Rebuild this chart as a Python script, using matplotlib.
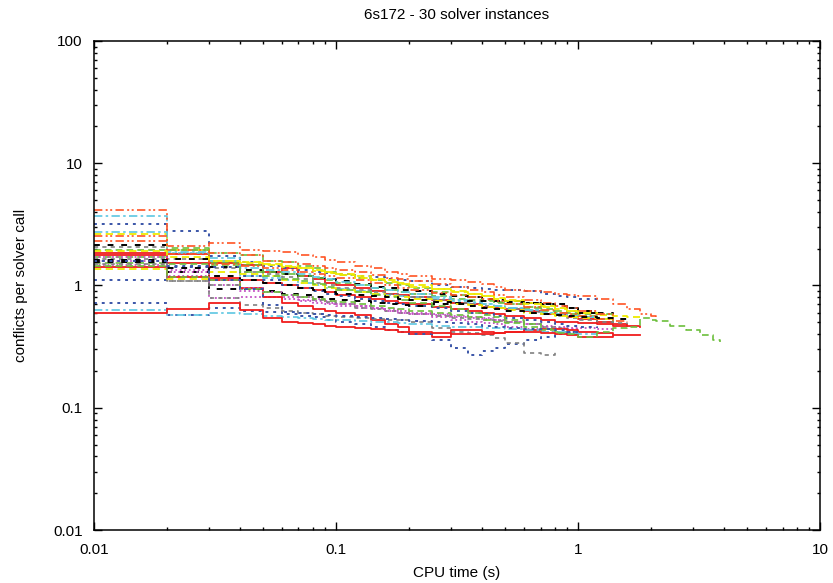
import matplotlib
matplotlib.use("Agg")
import matplotlib.pyplot as plt

plt.rcParams['font.family'] = ['Liberation Sans', 'DejaVu Sans']

# shared CPU-time grid (s)
T = [0.01, 0.02, 0.03, 0.04, 0.05, 0.06, 0.07, 0.08, 0.09, 0.10,
     0.12, 0.14, 0.16, 0.18, 0.20,
     0.25, 0.30, 0.35, 0.40, 0.45, 0.50,
     0.60, 0.70, 0.80, 0.90, 1.00,
     1.20, 1.40, 1.60, 1.80, 2.00,
     2.10, 2.40, 2.80, 3.20, 3.60, 3.85]

# conflicts per solver call, one list per solver instance
s00 = [1.85, 1.80, 1.54, 1.46, 1.30, 1.39, 1.20, 1.12, 1.05, 1.00, 0.95, 0.90, 0.86, 0.84, 0.80,
       0.76, 0.72, 0.70, 0.67, 0.66, 0.64, 0.62, 0.58, 0.57, 0.55, 0.53, 0.50, 0.48, 0.47, 0.46]
s01 = [1.71, 2.04, 1.84, 1.79, 1.60, 1.55, 1.45, 1.38, 1.30, 1.22, 1.15, 1.10, 1.04, 1.00, 0.95,
       0.88, 0.84, 0.80, 0.76, 0.73, 0.70, 0.66, 0.62, 0.60, 0.58, 0.56, 0.53, 0.50]
s02 = [3.19, 2.81, 1.73, 1.55, 1.45, 1.40, 1.35, 1.30, 1.27, 1.24, 1.20, 1.17, 1.14, 1.11, 1.08,
       1.01, 0.98, 0.95, 0.93, 0.92, 0.92, 0.90, 0.86, 0.82, 0.80, 0.78, 0.75]
s03 = [1.58, 1.34, 0.79, 0.81, 0.80, 0.78, 0.75, 0.72, 0.70, 0.68, 0.66, 0.64, 0.62, 0.60, 0.59,
       0.57, 0.55, 0.54, 0.53, 0.52, 0.50, 0.48, 0.47, 0.46, 0.45, 0.45, 0.44, 0.44]
s04 = [3.70, 1.89, 1.67, 1.20, 1.15, 1.10, 1.05, 1.00, 0.96, 0.93, 0.90, 0.86, 0.84, 0.82, 0.80,
       0.77, 0.74, 0.72, 0.70, 0.68, 0.66, 0.63, 0.60, 0.58, 0.56, 0.55, 0.53, 0.52]
s05 = [4.15, 2.10, 2.23, 1.94, 1.93, 1.88, 1.78, 1.72, 1.62, 1.55, 1.45, 1.38, 1.30, 1.24, 1.20,
       1.14, 1.10, 1.07, 1.02, 0.97, 0.92, 0.90, 0.88, 0.86, 0.84, 0.82, 0.77, 0.70, 0.64, 0.58,
       0.56, 0.55]
s06 = [2.07, 1.65, 1.40, 1.30, 1.25, 1.18, 1.12, 1.05, 1.00, 0.96, 0.92, 0.88, 0.85, 0.82, 0.80,
       0.76, 0.72, 0.70, 0.68, 0.66, 0.64, 0.61, 0.58, 0.56, 0.54, 0.52, 0.50, 0.49, 0.48]
s07 = [2.14, 1.65, 1.42, 1.35, 1.30, 1.24, 1.20, 1.16, 1.12, 1.08, 1.02, 0.98, 0.95, 0.92, 0.90,
       0.86, 0.82, 0.80, 0.78, 0.76, 0.74, 0.72, 0.70, 0.68, 0.65, 0.62, 0.60, 0.58]
s08 = [2.64, 1.95, 1.60, 1.55, 1.50, 1.45, 1.40, 1.35, 1.30, 1.25, 1.20, 1.14, 1.10, 1.05, 1.00,
       0.94, 0.90, 0.86, 0.82, 0.79, 0.76, 0.72, 0.68, 0.65, 0.62, 0.60, 0.57, 0.56, 0.55, 0.55]
s09 = [1.78, 1.54, 1.15, 1.10, 1.05, 1.00, 0.96, 0.92, 0.88, 0.84, 0.80, 0.78, 0.75, 0.72, 0.70,
       0.67, 0.64, 0.62, 0.60, 0.58, 0.56, 0.54, 0.52, 0.50, 0.50, 0.49, 0.48, 0.47, 0.47]
s10 = [1.53, 1.50, 1.46, 1.46, 1.30, 1.25, 1.20, 1.15, 1.10, 1.05, 1.00, 0.96, 0.92, 0.88, 0.85,
       0.82, 0.78, 0.76, 0.74, 0.72, 0.70, 0.67, 0.64, 0.62, 0.60, 0.59, 0.58, 0.57]
s11 = [1.11, 1.42, 1.42, 1.20, 1.10, 1.00, 0.95, 0.90, 0.86, 0.82, 0.78, 0.74, 0.72, 0.70, 0.68,
       0.65, 0.62, 0.60, 0.58, 0.56, 0.54, 0.52, 0.50, 0.48, 0.47, 0.46, 0.45]
s12 = [1.48, 1.20, 1.00, 0.90, 0.81, 0.80, 0.76, 0.74, 0.72, 0.70, 0.68, 0.66, 0.64, 0.62, 0.60,
       0.58, 0.56, 0.55, 0.54, 0.52, 0.50, 0.48, 0.46, 0.45, 0.44, 0.43]
s13 = [2.74, 1.85, 1.60, 1.40, 1.35, 1.30, 1.24, 1.18, 1.12, 1.06, 1.00, 0.96, 0.92, 0.88, 0.85,
       0.80, 0.76, 0.73, 0.70, 0.68, 0.66, 0.63, 0.60, 0.58, 0.56, 0.55, 0.54]
s14 = [2.54, 1.94, 1.85, 1.79, 1.60, 1.55, 1.50, 1.45, 1.40, 1.35, 1.28, 1.22, 1.16, 1.12, 1.08,
       1.02, 0.97, 0.92, 0.88, 0.84, 0.80, 0.76, 0.72, 0.68, 0.65, 0.62, 0.58, 0.56]
s15 = [1.65, 1.08, 1.00, 0.93, 0.88, 0.84, 0.80, 0.76, 0.73, 0.70, 0.66, 0.64, 0.62, 0.60, 0.58,
       0.56, 0.54, 0.53, 0.52, 0.51, 0.50, 0.48, 0.46, 0.45, 0.44]
s16 = [1.56, 1.30, 0.93, 0.93, 0.90, 0.86, 0.83, 0.80, 0.78, 0.76, 0.74, 0.72, 0.70, 0.69, 0.68,
       0.70, 0.72, 0.74, 0.75, 0.74, 0.73, 0.72, 0.71, 0.70, 0.66, 0.60, 0.56]
s17 = [1.36, 1.13, 1.30, 1.25, 1.20, 1.10, 1.05, 1.00, 0.96, 0.92, 0.88, 0.85, 0.82, 0.80, 0.77,
       0.74, 0.71, 0.69, 0.67, 0.65, 0.63, 0.60, 0.58, 0.56, 0.55, 0.54, 0.53, 0.52]
s18 = [1.42, 1.17, 1.10, 0.95, 0.80, 0.72, 0.68, 0.64, 0.62, 0.60, 0.57, 0.52, 0.48, 0.46, 0.40,
       0.38, 0.43, 0.43, 0.42, 0.41, 0.42, 0.43, 0.44, 0.44, 0.43, 0.42, 0.41, 0.40]
s19 = [1.95, 1.94, 1.54, 1.30, 1.20, 1.14, 1.08, 1.02, 0.97, 0.92, 0.88, 0.84, 0.80, 0.76, 0.72,
       0.68, 0.64, 0.60, 0.57, 0.55, 0.52, 0.48, 0.44, 0.42, 0.40, 0.40]
s20 = [0.72, 0.57, 0.65, 0.62, 0.61, 0.58, 0.56, 0.55, 0.52, 0.50, 0.48, 0.46, 0.43, 0.42, 0.40,
       0.36, 0.31, 0.27, 0.29, 0.31, 0.33, 0.36, 0.38, 0.40, 0.42, 0.43]
s21 = [1.70, 1.30, 1.10, 0.95, 0.88, 0.84, 0.80, 0.77, 0.74, 0.71, 0.68, 0.65, 0.62, 0.60, 0.58,
       0.55, 0.52, 0.50, 0.49, 0.48, 0.46, 0.44, 0.42, 0.41]
s22 = [0.63, 0.57, 0.60, 0.58, 0.56, 0.55, 0.54, 0.53, 0.52, 0.52, 0.51, 0.50, 0.50, 0.49, 0.48,
       0.47, 0.46, 0.46, 0.45, 0.45, 0.44, 0.43, 0.42, 0.42, 0.41, 0.40, 0.40]
s23 = [2.31, 1.80, 1.50, 1.45, 1.40, 1.35, 1.30, 1.25, 1.20, 1.15, 1.10, 1.05, 1.00, 0.96, 0.92,
       0.87, 0.83, 0.80, 0.77, 0.74, 0.71, 0.67, 0.63, 0.60, 0.58, 0.56, 0.53, 0.51, 0.50]
s24 = [1.50, 1.08, 0.79, 0.69, 0.66, 0.62, 0.60, 0.58, 0.56, 0.55, 0.54, 0.53, 0.52, 0.52, 0.50,
       0.45, 0.42, 0.41, 0.39, 0.37, 0.34, 0.28, 0.27, 0.30]
s25 = [1.62, 1.40, 1.20, 1.10, 1.05, 1.00, 0.95, 0.92, 0.89, 0.86, 0.84, 0.82, 0.80, 0.78, 0.76,
       0.73, 0.70, 0.68, 0.66, 0.64, 0.62, 0.60, 0.58, 0.57, 0.56, 0.55, 0.54, 0.53, 0.53]
s26 = [1.90, 1.70, 1.60, 1.52, 1.48, 1.42, 1.38, 1.32, 1.27, 1.22, 1.16, 1.10, 1.06, 1.02, 0.98,
       0.93, 0.88, 0.85, 0.82, 0.78, 0.75, 0.71, 0.67, 0.64, 0.62, 0.60, 0.58]
s27 = [0.60, 0.64, 0.72, 0.63, 0.54, 0.50, 0.49, 0.48, 0.47, 0.46, 0.45, 0.44, 0.43, 0.42, 0.42,
       0.41, 0.40, 0.40, 0.40, 0.41, 0.42, 0.42, 0.41, 0.40, 0.39, 0.38, 0.38, 0.39, 0.39, 0.39]
s28 = [1.45, 1.17, 1.10, 0.93, 0.88, 0.84, 0.80, 0.78, 0.75, 0.73, 0.70, 0.68, 0.66, 0.64, 0.62,
       0.60, 0.57, 0.55, 0.52, 0.50, 0.49, 0.46, 0.43, 0.41, 0.40, 0.38, 0.42, 0.45, 0.46, 0.54,
       0.52, 0.51, 0.47, 0.43, 0.39, 0.36, 0.345]
s29 = [1.60, 1.45, 1.10, 0.93, 0.69, 0.61, 0.60, 0.58, 0.57, 0.56, 0.55, 0.54, 0.53, 0.52, 0.51,
       0.50, 0.49, 0.48, 0.47, 0.46, 0.45, 0.44, 0.44, 0.43, 0.42, 0.42]

series = [s00, s01, s02, s03, s04, s05, s06, s07, s08, s09,
          s10, s11, s12, s13, s14, s15, s16, s17, s18, s19,
          s20, s21, s22, s23, s24, s25, s26, s27, s28, s29]

# gnuplot-like line types, cycled over the instances
styles = [
    ('#f01c1c', '-', 1.3),
    ('#6cbf3c', (0, (4, 2.5)), 1.2),
    ('#3a55a8', (0, (1.5, 2.5)), 1.4),
    ('#c450c4', (0, (1, 1.5)), 1.3),
    ('#5cc6e2', (0, (5, 2, 1.5, 2)), 1.2),
    ('#ff5424', (0, (5, 2, 1.2, 1.5, 1.2, 2)), 1.2),
    ('#808080', (0, (2.5, 2.5)), 1.2),
    ('#000000', (0, (3, 4)), 1.4),
    ('#eeea00', (0, (4, 2.5)), 1.3),
]

fig = plt.figure(figsize=(8.33, 5.83), dpi=100)
ax = fig.add_axes([0.1128, 0.0909, 0.8716, 0.8388])

for i, vals in enumerate(series):
    color, ls, lw = styles[i % len(styles)]
    ax.step(T[:len(vals)], vals, where='post', color=color,
            linestyle=ls, linewidth=lw)

ax.set_xscale('log')
ax.set_yscale('log')
ax.set_xlim(0.01, 10)
ax.set_ylim(0.01, 100)
ax.set_xticks([0.01, 0.1, 1, 10])
ax.set_xticklabels(['0.01', '0.1', '1', '10'])
ax.set_yticks([0.01, 0.1, 1, 10, 100])
ax.set_yticklabels(['0.01', '0.1', '1', '10', '100'])

ax.tick_params(which='both', direction='in', top=True, right=True,
               labelsize=11, width=1)
ax.tick_params(which='major', length=5.5)
ax.tick_params(which='minor', length=2.5)
ax.tick_params(axis='x', which='major', pad=9)
ax.tick_params(axis='y', which='major', pad=8)
for sp in ax.spines.values():
    sp.set_linewidth(1.1)

ax.set_title('6s172 - 30 solver instances', fontsize=11, pad=16)
ax.set_xlabel('CPU time (s)', fontsize=11, labelpad=7)
ax.set_ylabel('conflicts per solver call', fontsize=11, labelpad=18)

fig.savefig('out.png', dpi=100)
